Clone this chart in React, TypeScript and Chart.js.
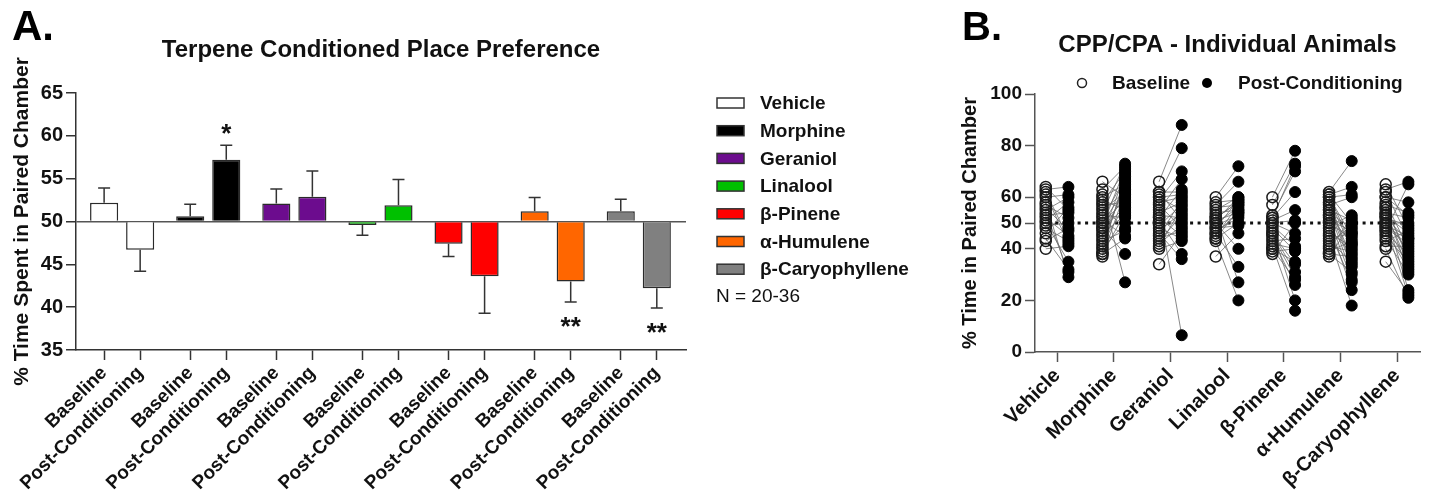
import React, { useEffect, useRef } from 'react';
import { Chart, registerables } from 'chart.js';

Chart.register(...registerables);

const FONT_FAMILY = 'Arial, "Liberation Sans", Helvetica, sans-serif';

// ---------- Panel A: group means ± SEM ----------
const groupNames = ['Vehicle', 'Morphine', 'Geraniol', 'Linalool', 'β-Pinene', 'α-Humulene', 'β-Caryophyllene'];
const phaseLabels = ['Baseline', 'Post-Conditioning'];
const baselineMean = [52.2, 50.6, 52.1, 49.6, 47.4, 51.2, 51.2];
const baselineSem = [1.7, 1.4, 1.7, 1.2, 1.5, 1.6, 1.4];
const postMean = [46.7, 57.2, 52.9, 51.9, 43.6, 43.0, 42.2];
const postSem = [2.5, 1.7, 3.0, 3.0, 4.3, 2.4, 2.3];
const postSignificance = ['', '*', '', '', '', '**', '**'];
const sampleSizeNote = 'N = 20-36';
const preferenceBase = 50;
const panelAYRange = [35, 65];
const panelAYStep = 5;

// ---------- Panel B: individual animals ----------
const vehicleBaseline = [64, 63, 62, 61, 60, 58, 57, 56, 55, 54, 53, 52, 51, 50, 49, 48, 46, 44, 43, 40];
const vehiclePost = [55, 64, 44, 42, 61, 29, 52, 47, 60, 31, 54, 45, 58, 35, 50, 43, 56, 32, 48, 41];
const morphineBaseline = [66, 63, 61, 60, 59, 58, 57, 56, 55, 54, 53, 52, 51, 50, 50, 49, 48, 48, 47, 46, 45, 44, 43, 42, 41, 40, 39, 38, 38, 37];
const morphinePost = [60, 72, 27, 65, 55, 70, 58, 48, 62, 73, 52, 67, 45, 63, 59, 71, 56, 38, 61, 53, 69, 64, 47, 57, 66, 50, 68, 54, 44, 62];
const geraniolBaseline = [66, 62, 61, 60, 59, 58, 57, 56, 55, 54, 53, 52, 52, 51, 50, 49, 48, 47, 46, 45, 44, 43, 42, 41, 40, 62, 60, 34];
const geraniolPost = [88, 62, 79, 55, 70, 60, 48, 6.5, 67, 58, 52, 45, 63, 38, 50, 57, 44, 54, 36, 59, 47, 53, 49, 56, 43, 51, 61, 46];
const linaloolBaseline = [60, 58, 57, 56, 55, 54, 53, 52, 51, 51, 50, 50, 49, 48, 47, 46, 45, 44, 44, 43, 52, 48, 46, 37];
const linaloolPost = [72, 59, 66, 57, 60, 55, 27, 58, 54, 60, 56, 40, 53, 59, 52, 33, 57, 50, 55, 20, 58, 49, 54, 46];
const pineneBaseline = [60, 57, 53, 52, 51, 50, 50, 49, 48, 47, 46, 46, 45, 44, 43, 42, 41, 40, 40, 39, 38, 52];
const pinenePost = [78, 73, 70, 62, 55, 51, 46, 41, 39, 20, 34, 31, 29, 26, 44, 40, 16, 35, 28, 40, 50, 72];
const humuleneBaseline = [62, 61, 61, 60, 60, 59, 58, 57, 56, 55, 55, 54, 53, 52, 51, 50, 50, 49, 48, 46, 45, 44, 43, 42, 41, 40, 39, 38, 38, 37, 60, 58, 53, 47];
const humulenePost = [74, 50, 64, 45, 61, 40, 36, 60, 33, 51, 30, 48, 42, 28, 47, 24, 44, 53, 38, 41, 18, 46, 35, 49, 39, 52, 43, 31, 37, 50, 42, 34, 46, 27];
const caryophylleneBaseline = [65, 63, 62, 60, 58, 57, 56, 55, 54, 53, 53, 52, 51, 50, 50, 49, 49, 48, 47, 46, 45, 44, 43, 41, 40, 35, 60, 56, 52, 48, 54, 47];
const caryophyllenePost = [48, 66, 44, 58, 40, 54, 36, 31, 52, 46, 24, 43, 39, 50, 33, 45, 22, 42, 65, 38, 35, 30, 47, 41, 21, 23, 53, 37, 49, 44, 34, 32];
const panelBYTicks = [0, 20, 40, 50, 60, 80, 100];
const panelBYRange = [0, 100];

const individualBaseline = [vehicleBaseline, morphineBaseline, geraniolBaseline, linaloolBaseline, pineneBaseline, humuleneBaseline, caryophylleneBaseline];
const individualPost = [vehiclePost, morphinePost, geraniolPost, linaloolPost, pinenePost, humulenePost, caryophyllenePost];

// ---------- styles / layout ----------
const groupColors = ['#ffffff', '#000000', '#6c0c8e', '#00c000', '#ff0000', '#ff6600', '#808080'];
const TEXT = '#111111';
const AXIS_A = '#333333';
const AXIS_B = '#555555';
const GROUP_STRIDE = 86 / 36; // group spacing relative to bar spacing
const PHASE_OFFSET_B = 0.2;

function font(size: number, weight: string = 'bold') {
  return { family: FONT_FAMILY, size, weight: weight as any };
}

function panelLetter(text: string, x: number, baseline: number, size: number) {
  return {
    id: 'panelLetter' + text,
    afterDraw(chart: any) {
      const ctx = chart.ctx;
      ctx.save();
      ctx.font = `bold ${size}px ${FONT_FAMILY}`;
      ctx.fillStyle = '#000';
      ctx.textBaseline = 'alphabetic';
      ctx.textAlign = 'left';
      ctx.fillText(text, x, baseline);
      ctx.restore();
    },
  };
}

function PanelA() {
  const ref = useRef<HTMLCanvasElement>(null);
  useEffect(() => {
    const canvas = ref.current;
    if (!canvas) return;
    const barX: number[] = [];
    const points: { x: number; y: number }[] = [];
    const colors: string[] = [];
    groupNames.forEach((_, g) => {
      [baselineMean[g], postMean[g]].forEach((v, phase) => {
        const x = g * GROUP_STRIDE + phase;
        barX.push(x);
        points.push({ x, y: v });
        colors.push(groupColors[g]);
      });
    });

    const errorBars = {
      id: 'errorBars',
      afterDatasetsDraw(chart: any) {
        const { ctx } = chart;
        const yScale = chart.scales.y;
        const meta = chart.getDatasetMeta(0);
        ctx.save();
        ctx.strokeStyle = AXIS_A;
        ctx.lineWidth = 1.5;
        meta.data.forEach((bar: any, i: number) => {
          const g = Math.floor(i / 2);
          const phase = i % 2;
          const mean = phase === 0 ? baselineMean[g] : postMean[g];
          const sem = phase === 0 ? baselineSem[g] : postSem[g];
          const dir = mean >= preferenceBase ? 1 : -1;
          const y0 = yScale.getPixelForValue(mean);
          const y1 = yScale.getPixelForValue(mean + dir * sem);
          ctx.beginPath();
          ctx.moveTo(bar.x, y0);
          ctx.lineTo(bar.x, y1);
          ctx.moveTo(bar.x - 6, y1);
          ctx.lineTo(bar.x + 6, y1);
          ctx.stroke();
          const sig = phase === 1 ? postSignificance[g] : '';
          if (sig) {
            ctx.font = `bold 26px ${FONT_FAMILY}`;
            ctx.fillStyle = TEXT;
            ctx.textAlign = 'center';
            ctx.textBaseline = 'alphabetic';
            ctx.fillText(sig, bar.x, dir > 0 ? y1 - 3 : y1 + 33);
          }
        });
        ctx.restore();
      },
    };

    const legendA = {
      id: 'legendA',
      afterDraw(chart: any) {
        const { ctx, chartArea } = chart;
        const x0 = chartArea.right + 31;
        const rowH = 27.7;
        ctx.save();
        ctx.font = `bold 19px ${FONT_FAMILY}`;
        ctx.textBaseline = 'middle';
        ctx.textAlign = 'left';
        groupNames.forEach((name, i) => {
          const yc = chartArea.top + 10 + i * rowH;
          ctx.fillStyle = groupColors[i];
          ctx.fillRect(x0, yc - 5, 27, 10);
          ctx.strokeStyle = AXIS_A;
          ctx.lineWidth = 1.5;
          ctx.strokeRect(x0, yc - 5, 27, 10);
          ctx.fillStyle = TEXT;
          ctx.fillText(name, x0 + 43, yc + 1);
        });
        ctx.font = `19px ${FONT_FAMILY}`;
        ctx.fillText(sampleSizeNote, x0 - 1, chartArea.top + 10 + groupNames.length * rowH);
        ctx.restore();
      },
    };

    const chart = new Chart(canvas, {
      type: 'bar',
      data: {
        datasets: [
          {
            data: points as any,
            backgroundColor: colors,
            borderColor: '#2a2a2a',
            borderWidth: 1.5,
            base: preferenceBase,
            barPercentage: 0.78,
            categoryPercentage: 1,
          } as any,
        ],
      },
      options: {
        responsive: false,
        animation: false,
        devicePixelRatio: 1,
        events: [],
        layout: { padding: { top: 0, left: 0, right: 254, bottom: 0 } },
        plugins: {
          legend: { display: false },
          tooltip: { enabled: false },
          title: {
            display: true,
            text: 'Terpene Conditioned Place Preference',
            fullSize: false,
            color: TEXT,
            font: font(24),
            padding: { top: 35.6, bottom: 28.6 },
          },
        },
        scales: {
          x: {
            type: 'linear',
            min: -0.78,
            max: 6 * GROUP_STRIDE + 1 + 0.81,
            offset: false,
            afterBuildTicks: (s: any) => {
              s.ticks = barX.map((v) => ({ value: v }));
            },
            afterFit: (s: any) => {
              s.height = 149;
            },
            grid: { display: true, drawOnChartArea: false, drawTicks: true, tickLength: 10, tickColor: AXIS_A, tickWidth: 1.5, offset: false },
            border: { display: true, color: AXIS_A, width: 1.5 },
            ticks: {
              autoSkip: false,
              minRotation: 45,
              maxRotation: 45,
              padding: 2,
              color: TEXT,
              font: font(19),
              callback: (_v: any, i: number) => phaseLabels[i % 2],
            },
          },
          y: {
            type: 'linear',
            min: panelAYRange[0],
            max: panelAYRange[1],
            afterFit: (s: any) => {
              s.width = 76;
            },
            grid: {
              drawOnChartArea: true,
              color: (c: any) => (c.tick && c.tick.value === preferenceBase ? '#555' : 'rgba(0,0,0,0)'),
              lineWidth: 1.5,
              tickLength: 10,
              tickColor: AXIS_A,
              tickWidth: 1.5,
            },
            border: { display: true, color: AXIS_A, width: 1.5 },
            ticks: { stepSize: panelAYStep, padding: 3, color: TEXT, font: font(20) },
            title: {
              display: true,
              text: '% Time Spent in Paired Chamber',
              color: TEXT,
              font: font(21),
              padding: { top: 10, bottom: 0 },
            },
          },
        },
      } as any,
      plugins: [errorBars, legendA, panelLetter('A.', 12, 40, 42)],
    });
    return () => chart.destroy();
  }, []);
  return (
    <canvas
      ref={ref}
      width={940}
      height={499}
      style={{ position: 'absolute', left: 0, top: 0, width: 940, height: 499 }}
    />
  );
}

function PanelB() {
  const ref = useRef<HTMLCanvasElement>(null);
  useEffect(() => {
    const canvas = ref.current;
    if (!canvas) return;
    const baselinePoints = individualBaseline.flatMap((arr, g) => arr.map((v) => ({ x: g - PHASE_OFFSET_B, y: v })));
    const postPoints = individualPost.flatMap((arr, g) => arr.map((v) => ({ x: g + PHASE_OFFSET_B, y: v })));
    const connectors = individualBaseline.flatMap((arr, g) =>
      arr.flatMap((v, i) => [
        { x: g - PHASE_OFFSET_B, y: v },
        { x: g + PHASE_OFFSET_B, y: individualPost[g][i] },
        { x: g, y: null as any },
      ])
    );
    const chanceLine = [
      { x: -0.3, y: preferenceBase },
      { x: groupNames.length - 0.8, y: preferenceBase },
    ];

    const legendB = {
      id: 'legendB',
      afterDraw(chart: any) {
        const { ctx, chartArea } = chart;
        const y = chartArea.top - 11;
        const x0 = chartArea.left + 47;
        ctx.save();
        ctx.lineWidth = 1.5;
        ctx.strokeStyle = '#222';
        ctx.beginPath();
        ctx.arc(x0, y, 4.5, 0, Math.PI * 2);
        ctx.stroke();
        ctx.fillStyle = '#000';
        ctx.beginPath();
        ctx.arc(x0 + 125, y, 5, 0, Math.PI * 2);
        ctx.fill();
        ctx.font = `bold 19px ${FONT_FAMILY}`;
        ctx.textBaseline = 'middle';
        ctx.textAlign = 'left';
        ctx.fillStyle = TEXT;
        ctx.fillText(phaseLabels[0], x0 + 30, y + 1);
        ctx.fillText(phaseLabels[1], x0 + 156, y + 1);
        ctx.restore();
      },
    };

    const chart = new Chart(canvas, {
      type: 'scatter',
      data: {
        datasets: [
          {
            data: chanceLine,
            showLine: true,
            pointRadius: 0,
            borderColor: '#111',
            borderWidth: 3,
            borderDash: [3, 4.5],
            order: 4,
          },
          {
            data: connectors,
            showLine: true,
            spanGaps: false,
            pointRadius: 0,
            borderColor: '#6a6a6a',
            borderWidth: 0.8,
            order: 3,
          },
          {
            data: baselinePoints,
            pointRadius: 5.5,
            pointBorderWidth: 1.5,
            pointBorderColor: '#1a1a1a',
            pointBackgroundColor: 'rgba(255,255,255,0)',
            order: 2,
          },
          {
            data: postPoints,
            pointRadius: 5.5,
            pointBorderWidth: 1,
            pointBorderColor: '#000',
            pointBackgroundColor: '#000',
            order: 1,
          },
        ] as any,
      },
      options: {
        responsive: false,
        animation: false,
        devicePixelRatio: 1,
        events: [],
        layout: { padding: { top: 0, left: 0, right: 9, bottom: 0 } },
        plugins: {
          legend: { display: false },
          tooltip: { enabled: false },
          title: {
            display: true,
            text: 'CPP/CPA - Individual Animals',
            fullSize: false,
            color: TEXT,
            font: font(24),
            padding: { top: 31, bottom: 34.2 },
          },
        },
        scales: {
          x: {
            type: 'linear',
            min: -0.39,
            max: 6.405,
            offset: false,
            afterBuildTicks: (s: any) => {
              s.ticks = groupNames.map((_, i) => ({ value: i }));
            },
            afterFit: (s: any) => {
              s.height = 147;
            },
            grid: { display: true, drawOnChartArea: false, drawTicks: true, tickLength: 10, tickColor: AXIS_B, tickWidth: 1.5 },
            border: { display: true, color: AXIS_B, width: 1.5 },
            ticks: {
              autoSkip: false,
              minRotation: 45,
              maxRotation: 45,
              padding: 2,
              color: TEXT,
              font: font(20),
              callback: (_v: any, i: number) => groupNames[i],
            },
          },
          y: {
            type: 'linear',
            min: panelBYRange[0],
            max: panelBYRange[1],
            afterBuildTicks: (s: any) => {
              s.ticks = panelBYTicks.map((v) => ({ value: v }));
            },
            afterFit: (s: any) => {
              s.width = 95;
            },
            grid: { display: true, drawOnChartArea: false, tickLength: 10, tickColor: AXIS_B, tickWidth: 1.5 },
            border: { display: true, color: AXIS_B, width: 1.5 },
            ticks: { autoSkip: false, padding: 3, color: TEXT, font: font(19) },
            title: {
              display: true,
              text: '% Time in Paired Chamber',
              color: TEXT,
              font: font(20),
              padding: { top: 18, bottom: 0 },
            },
          },
        },
      } as any,
      plugins: [legendB, panelLetter('B.', 22, 40, 40)],
    });
    return () => chart.destroy();
  }, []);
  return (
    <canvas
      ref={ref}
      width={489}
      height={499}
      style={{ position: 'absolute', left: 940, top: 0, width: 489, height: 499 }}
    />
  );
}

export default function App() {
  return (
    <div
      style={{
        position: 'absolute',
        left: 0,
        top: 0,
        width: 1429,
        height: 499,
        background: '#ffffff',
        overflow: 'hidden',
      }}
    >
      <PanelA />
      <PanelB />
    </div>
  );
}
